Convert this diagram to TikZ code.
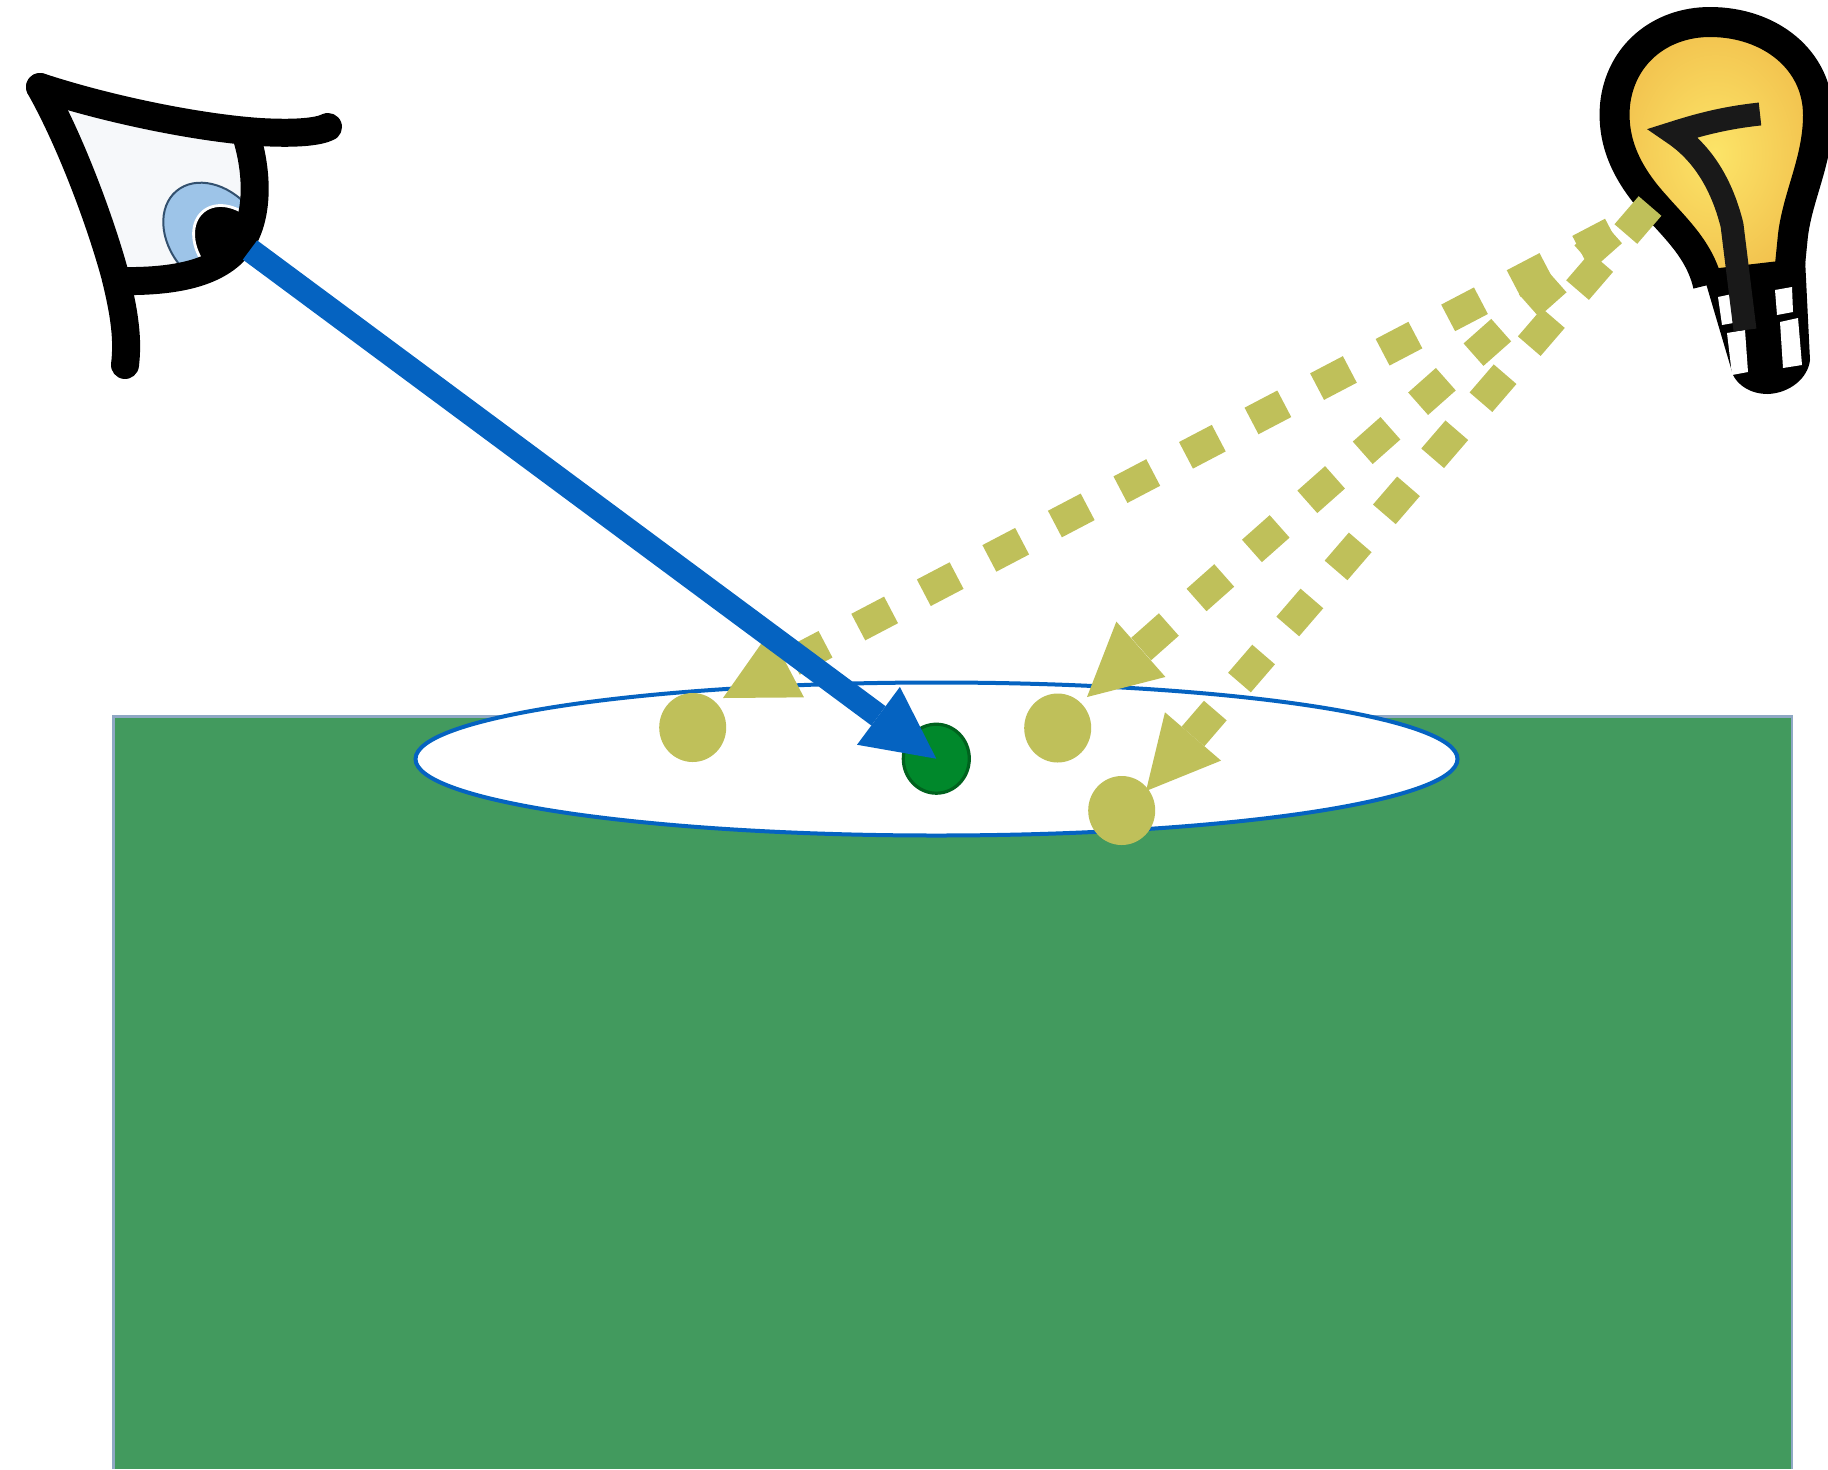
\documentclass[tikz,border=0pt]{standalone}
\usetikzlibrary{arrows.meta,shapes.geometric}
\definecolor{field}{RGB}{66,154,94}
\definecolor{fieldedge}{RGB}{143,168,196}
\definecolor{ray}{RGB}{5,99,193}
\definecolor{olive}{RGB}{191,192,90}
\definecolor{spot}{RGB}{0,136,43}
\definecolor{spotedge}{RGB}{0,98,30}
\definecolor{iris}{RGB}{157,196,232}
\definecolor{irisedge}{RGB}{50,80,110}
\definecolor{eyewhite}{RGB}{246,248,250}
\definecolor{glassA}{RGB}{252,228,104}
\definecolor{glassB}{RGB}{242,194,78}
\begin{document}
\begin{tikzpicture}[x=0.5pt,y=-0.5pt,
  ink/.style={black, line width=14pt, line cap=round, line join=round},
  lightray/.style={olive, line width=15pt, dash pattern=on 18.5pt off 18.5pt,
    -{Triangle[length=36pt,width=37pt,line width=0pt]}},
  viewray/.style={ray, line width=12pt,
    -{Triangle[length=36pt,width=36pt,line width=0pt]}},
  dot/.style={ellipse, inner sep=0pt, minimum width=33.5pt, minimum height=34.5pt},
]
\useasboundingbox (0,0) rectangle (1828,1469);

% ground block
\fill[field] (113.5,716.5) rectangle (1792,1469);
\draw[fieldedge, line width=1.1pt] (113.5,1469) -- (113.5,716.5) -- (1792,716.5) -- (1792,1469);

% lit patch on the surface
\node[ellipse, draw=ray, fill=white, line width=2pt, inner sep=0pt,
      minimum width=521pt, minimum height=76.5pt] (pool) at (936.5,759) {};

% scattered samples and the observed point
\node[dot, fill=olive] (d1) at (692.7,727.5) {};
\node[dot, fill=olive] (d2) at (1057.7,728) {};
\node[dot, fill=olive] (d3) at (1121.7,810.5) {};
\node[dot, fill=spot, draw=spotedge, line width=1.6pt, minimum width=33pt, minimum height=34.5pt] (spot) at (936.3,758.7) {};

% eye: white, iris and pupil kept inside the lids, then the outline on top
\begin{scope}
  \clip (40,87) .. controls (110,110) and (200,128) .. (250,131)
        .. controls (262,175) and (262,222) .. (240,250)
        .. controls (215,278) and (170,285) .. (118,283)
        .. controls (100,220) and (70,140) .. (40,87) -- cycle;
  \fill[eyewhite] (0,0) rectangle (330,330);
  \draw[irisedge, fill=iris, line width=1pt] (215,237) circle [x radius=60, y radius=45, rotate=-50];
  \draw[white, fill=black, line width=1.4pt] (232,246) circle [x radius=45, y radius=33, rotate=-50];
\end{scope}
\draw[ink] (40,87) .. controls (110,110) and (200,128) .. (260,132)
                   .. controls (295,134) and (318,132) .. (328,127);
\draw[ink] (40,87) .. controls (70,140) and (100,220) .. (115,275)
                   .. controls (125,315) and (128,340) .. (125,365);
\draw[ink] (247,138) .. controls (258,175) and (259,220) .. (238,247)
                     .. controls (215,275) and (170,282) .. (118,281);
\coordinate (eyecorner) at (250,250);

% light bulb
\shade[inner color=glassA, outer color=glassB]
  (1708,285) .. controls (1700,250) and (1675,228) .. (1655,205)
  .. controls (1625,172) and (1612,140) .. (1615,105)
  .. controls (1620,55) and (1660,22) .. (1710,22)
  .. controls (1770,22) and (1818,60) .. (1818,115)
  .. controls (1818,160) and (1798,195) .. (1793,235)
  -- (1789,275) -- cycle;
\draw[black, line width=15pt, line join=round]
  (1708,285) .. controls (1700,250) and (1675,228) .. (1655,205)
  .. controls (1625,172) and (1612,140) .. (1615,105)
  .. controls (1620,55) and (1660,22) .. (1710,22)
  .. controls (1770,22) and (1818,60) .. (1818,115)
  .. controls (1818,160) and (1798,195) .. (1793,235)
  -- (1789,275);
\fill[black] (1702,270) -- (1805,258) -- (1810,360)
  .. controls (1808,378) and (1790,393) .. (1768,394)
  .. controls (1750,394) and (1738,385) .. (1733,375) -- cycle;
\fill[white] (1718,297) -- (1737,293) -- (1739,322) -- (1722,325) -- cycle;
\fill[white] (1775,290) -- (1792,287) -- (1793,312) -- (1777,315) -- cycle;
\fill[white] (1727,333) -- (1745,330) -- (1748,372) -- (1732,375) -- cycle;
\fill[white] (1780,322) -- (1798,318) -- (1802,365) -- (1783,368) -- cycle;
\draw[black!90, line width=11.5pt, line join=miter, miter limit=3]
  (1760,114) .. controls (1722,118) and (1695,126) .. (1673,133)
  .. controls (1703,153) and (1722,185) .. (1732,225) -- (1745,330);
\coordinate (lampA) at (1612,232);
\coordinate (lampB) at (1650,206);

% light paths
\coordinate (hit1) at (723,698);
\coordinate (hit2) at (1087,697);
\coordinate (hit3) at (1146,791);
\draw[lightray] (lampA) -- (hit1);
\draw[lightray] (lampA) -- (hit2);
\draw[lightray] (lampB) -- (hit3);

% line of sight
\draw[viewray] (eyecorner) -- (spot.center);
\end{tikzpicture}
\end{document}
